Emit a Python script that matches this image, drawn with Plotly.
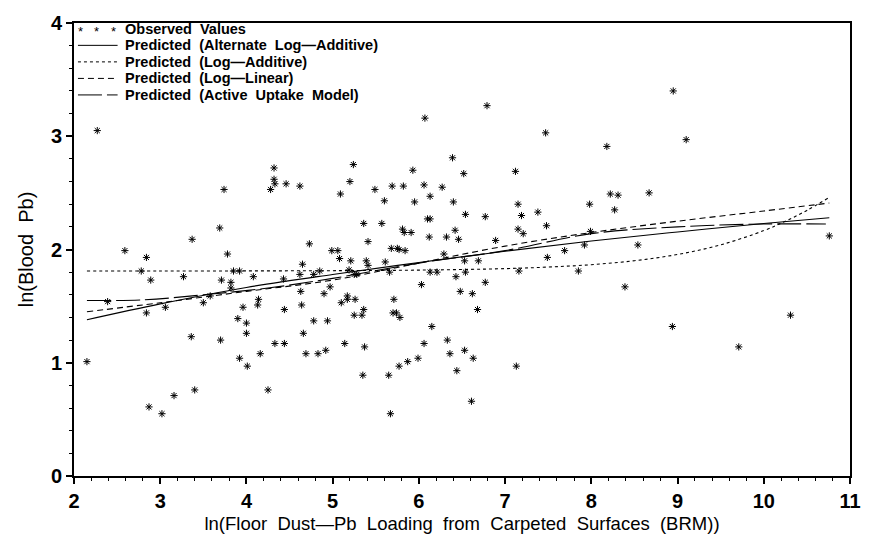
import plotly.graph_objects as go

# Observed values (ln floor dust-Pb loading, ln blood Pb)
obs_x = [2.27, 2.59, 2.84, 2.78, 2.89, 3.27, 3.37, 3.69, 3.74, 3.78, 3.71, 3.82, 3.85, 3.92, 3.82, 4.08,
         4.14, 4.28, 4.32, 4.32, 4.33, 4.46, 4.62, 4.73, 4.65, 4.43, 4.62, 4.63, 4.78, 3.58, 2.39,
         2.84, 3.06, 3.50, 2.15, 3.36, 3.70, 3.90, 3.96, 4.00, 4.00, 4.13, 3.92, 4.01, 4.16, 4.33,
         4.44, 4.44, 4.64, 4.66, 4.69, 4.78, 4.83, 3.40, 4.25, 3.16, 2.87, 3.02,
         6.07, 7.47, 5.24, 6.39, 5.93, 6.52, 7.12, 5.20, 5.09, 5.49, 5.69, 5.82, 6.06, 6.27, 6.13,
         5.60, 5.95, 6.40, 7.15, 7.19, 7.38, 6.54, 6.77, 6.10, 6.13, 5.36, 5.57, 5.81, 5.83, 5.91,
         6.42, 7.15, 7.21, 7.48, 6.12, 6.32, 6.46, 6.89, 5.41, 4.99, 5.06, 5.68, 5.75, 5.77, 5.84,
         5.08, 5.21, 5.39, 5.41, 5.61, 6.29, 6.53, 6.69, 7.49, 4.85, 5.19, 5.25, 5.28, 5.66, 6.13,
         6.21, 6.54, 7.16, 6.43, 4.97, 4.90, 6.03, 6.48, 6.62, 6.77, 5.17, 5.17, 5.26, 5.10, 5.71,
         5.36, 5.25, 5.34, 5.70, 5.74, 5.78, 6.68, 4.94, 6.15, 5.14, 5.37, 6.06, 6.33, 4.92, 6.36,
         6.53, 6.63, 5.99, 5.87, 5.77, 6.44, 7.13, 5.35, 5.65, 6.61, 5.67,
         8.95, 9.10, 8.18, 8.22, 8.31, 8.67, 7.98, 8.27, 7.99, 7.92, 8.54, 7.69, 7.85, 8.39,
         10.76, 10.31, 8.94, 9.71, 6.79]
obs_y = [3.05, 1.99, 1.93, 1.81, 1.73, 1.76, 2.09, 2.19, 2.53, 1.96, 1.73, 1.71, 1.81, 1.81, 1.66, 1.76,
         1.56, 2.53, 2.72, 2.62, 2.58, 2.58, 2.56, 2.05, 1.87, 1.74, 1.78, 1.63, 1.78, 1.59, 1.54,
         1.44, 1.49, 1.53, 1.01, 1.23, 1.20, 1.39, 1.49, 1.35, 1.26, 1.51, 1.04, 0.97, 1.08, 1.17,
         1.17, 1.47, 1.51, 1.26, 1.08, 1.37, 1.08, 0.76, 0.76, 0.71, 0.61, 0.55,
         3.16, 3.03, 2.75, 2.81, 2.70, 2.67, 2.69, 2.60, 2.49, 2.53, 2.56, 2.56, 2.57, 2.55, 2.47,
         2.43, 2.42, 2.42, 2.40, 2.30, 2.33, 2.31, 2.29, 2.27, 2.27, 2.23, 2.23, 2.18, 2.15, 2.15,
         2.17, 2.18, 2.14, 2.21, 2.11, 2.11, 2.09, 2.08, 2.07, 1.99, 1.99, 2.01, 2.01, 2.00, 1.99,
         1.92, 1.90, 1.90, 1.86, 1.89, 1.96, 1.90, 1.90, 1.93, 1.81, 1.82, 1.78, 1.78, 1.80, 1.80,
         1.80, 1.80, 1.81, 1.76, 1.67, 1.61, 1.69, 1.63, 1.61, 1.71, 1.59, 1.56, 1.56, 1.53, 1.56,
         1.47, 1.42, 1.42, 1.44, 1.44, 1.40, 1.47, 1.37, 1.32, 1.17, 1.14, 1.17, 1.20, 1.11, 1.08,
         1.11, 1.04, 1.04, 1.01, 0.97, 0.93, 0.97, 0.89, 0.89, 0.66, 0.55,
         3.40, 2.97, 2.91, 2.49, 2.48, 2.50, 2.40, 2.35, 2.16, 2.04, 2.04, 1.99, 1.81, 1.67,
         2.12, 1.42, 1.32, 1.14, 3.27]

# Predicted curves
alt_x = [2.15, 3, 4, 5, 6, 7, 8, 9, 10, 10.76]
alt_y = [1.38, 1.52, 1.665, 1.78, 1.885, 1.985, 2.075, 2.155, 2.23, 2.28]

ladd_x = [2.15, 3, 4, 5, 6, 7, 7.5, 8, 8.5, 9, 9.5, 10, 10.25, 10.5, 10.76]
ladd_y = [1.810, 1.810, 1.811, 1.813, 1.818, 1.831, 1.845, 1.866, 1.901, 1.956, 2.041, 2.167, 2.249, 2.345, 2.461]

llin_x = [2.15, 3, 4, 5, 6, 7, 8, 9, 10, 10.76]
llin_y = [1.45, 1.53, 1.63, 1.73, 1.88, 2.03, 2.15, 2.25, 2.34, 2.41]

aum_x = [2.15, 2.8, 3.5, 4.25, 5, 6, 7, 8, 9, 10, 10.72]
aum_y = [1.55, 1.555, 1.60, 1.66, 1.745, 1.88, 1.99, 2.14, 2.20, 2.225, 2.225]

x_ticks = [2, 3, 4, 5, 6, 7, 8, 9, 10, 11]
y_ticks = [0, 1, 2, 3, 4]

legend_names = ["Observed  Values",
                "Predicted  (Alternate  Log—Additive)",
                "Predicted  (Log—Additive)",
                "Predicted  (Log—Linear)",
                "Predicted  (Active  Uptake  Model)"]
legend_dashes = [None, "solid", "3px,3px", "6px,4px", "24px,5px"]

FONT = "Liberation Sans, Arial, sans-serif"

# plot-area geometry (pixels) used for placing the legend
W, H = 873, 543
ML, MR, MT, MB = 74, 16, 12, 65
PW, PH = W - ML - MR, H - MT - MB


def px_x(px):
    return (px - ML) / PW


def px_y(py):
    return 1 - (py - MT) / PH


fig = go.Figure()
fig.add_trace(go.Scatter(x=obs_x, y=obs_y, mode="markers", name=legend_names[0], showlegend=False,
                         marker=dict(symbol="asterisk-open", size=6, color="black",
                                     line=dict(color="black", width=1))))
for xs, ys, nm, dsh in [(alt_x, alt_y, legend_names[1], legend_dashes[1]),
                        (ladd_x, ladd_y, legend_names[2], legend_dashes[2]),
                        (llin_x, llin_y, legend_names[3], legend_dashes[3]),
                        (aum_x, aum_y, legend_names[4], legend_dashes[4])]:
    fig.add_trace(go.Scatter(x=xs, y=ys, mode="lines", name=nm, showlegend=False,
                             line=dict(color="black", width=1.1, dash=dsh, shape="spline")))

# manual legend (top-left, inside the frame)
row_py = [18, 35, 52, 69, 86]
shapes = []
annotations = []
for i, (nm, dsh) in enumerate(zip(legend_names, legend_dashes)):
    yy = px_y(row_py[i])
    annotations.append(dict(x=px_x(123), y=yy, xref="paper", yref="paper", text=nm,
                            showarrow=False, xanchor="left", yanchor="middle",
                            font=dict(size=14.5, family=FONT, weight="bold", color="black")))
    if dsh is None:
        for sx in (81, 97, 114):
            annotations.append(dict(x=px_x(sx), y=yy, xref="paper", yref="paper", text="*",
                                    showarrow=False, xanchor="center", yanchor="middle", yshift=-3,
                                    font=dict(size=13, family=FONT, color="black")))
    else:
        shapes.append(dict(type="line", xref="paper", yref="paper", x0=px_x(78), x1=px_x(118),
                           y0=yy, y1=yy, line=dict(color="black", width=1, dash=dsh)))

fig.update_layout(
    width=W, height=H,
    margin=dict(l=ML, r=MR, t=MT, b=MB),
    paper_bgcolor="white", plot_bgcolor="white",
    font=dict(family=FONT, color="black"),
    showlegend=False,
    shapes=shapes, annotations=annotations,
    xaxis=dict(range=[2, 11], tickvals=x_ticks, ticktext=[str(v) for v in x_ticks],
               showgrid=False, zeroline=False, showline=True, linecolor="black", linewidth=2,
               mirror=True, ticks="outside", ticklen=6, tickwidth=1.5, tickcolor="black",
               minor=dict(ticks="outside", ticklen=3, tickwidth=1, dtick=0.2, tickcolor="black"),
               tickfont=dict(size=20, family=FONT, weight="bold"),
               title=dict(text="ln(Floor  Dust—Pb  Loading  from  Carpeted  Surfaces  (BRM))",
                          font=dict(size=18.5, family=FONT), standoff=6)),
    yaxis=dict(range=[0, 4], tickvals=y_ticks, ticktext=[str(v) for v in y_ticks],
               showgrid=False, zeroline=False, showline=True, linecolor="black", linewidth=2,
               mirror=True, ticks="outside", ticklen=6, tickwidth=1.5, tickcolor="black",
               minor=dict(ticks="outside", ticklen=3, tickwidth=1, dtick=0.2, tickcolor="black"),
               tickfont=dict(size=20, family=FONT, weight="bold"),
               title=dict(text="ln(Blood  Pb)", font=dict(size=20, family=FONT), standoff=12)),
)

fig.write_html("out.html")
